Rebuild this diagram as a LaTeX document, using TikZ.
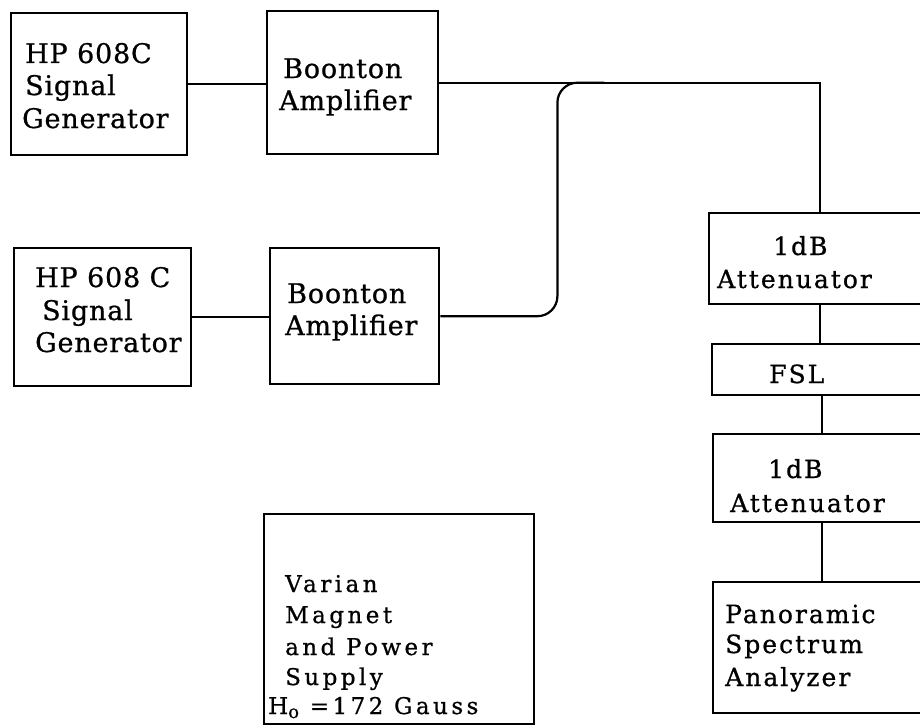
\documentclass[tikz,border=0pt]{standalone}
\usepackage{fontspec}
\usetikzlibrary{calc}
\setmainfont{DejaVu Serif}
\newfontfamily\fmain[LetterSpace=3,FakeBold=0.8]{DejaVu Serif}
\newfontfamily\fright[LetterSpace=8,FakeBold=0.8]{DejaVu Serif}
\newfontfamily\fvar[LetterSpace=15,FakeBold=0.8]{DejaVu Serif}
\begin{document}
\begin{tikzpicture}[x=1pt,y=-1pt,
  box/.style={draw, line width=2.4pt, inner sep=0pt, anchor=north west},
  wire/.style={line width=2.2pt},
  tmain/.style={anchor=base west, inner sep=0pt, font=\fmain\fontsize{27}{32}\selectfont},
  tright/.style={anchor=base west, inner sep=0pt, font=\fright\fontsize{25}{30}\selectfont},
  tvar/.style={anchor=base west, inner sep=0pt, font=\fvar\fontsize{23}{27}\selectfont}]
\useasboundingbox (0,0) rectangle (920,725);
\clip (0,0) rectangle (920,725);
% boxes
\node[box, minimum width=176pt, minimum height=142pt] (sg1) at (10,12) {};
\node[box, minimum width=171pt, minimum height=143pt] (amp1) at (266,10) {};
\node[box, minimum width=177pt, minimum height=138pt] (sg2) at (13,247) {};
\node[box, minimum width=169pt, minimum height=136pt] (amp2) at (269,247) {};
\node[box, minimum width=222pt, minimum height=91pt] (att1) at (708,212) {};
\node[box, minimum width=219pt, minimum height=51pt] (fsl) at (711,343) {};
\node[box, minimum width=218pt, minimum height=88pt] (att2) at (712,433) {};
\node[box, minimum width=218pt, minimum height=131pt] (pan) at (712,581) {};
\node[box, minimum width=270pt, minimum height=210pt] (var) at (263,513) {};
% texts
\node[tmain] (sg1a) at (25,63) {HP 608C};
\node[tmain] (sg1b) at (25,95) {Signal};
\node[tmain] (sg1c) at (22,128) {Generator};
\node[tmain] (amp1a) at (283,78) {Boonton};
\node[tmain] (amp1b) at (279,110) {Amplifier};
\node[tmain] (sg2a) at (35,287) {HP 608 C};
\node[tmain] (sg2b) at (42,320) {Signal};
\node[tmain] (sg2c) at (35,352) {Generator};
\node[tmain] (amp2a) at (287,303) {Boonton};
\node[tmain] (amp2b) at (285,335) {Amplifier};
\node[tright] (att1a) at (773,255) {1dB};
\node[tright] (att1b) at (717,288) {Attenuator};
\node[tright] (fsla) at (769,383) {FSL};
\node[tright] (att2a) at (768,478) {1dB};
\node[tright] (att2b) at (730,512) {Attenuator};
\node[tright] (pana) at (725,623) {Panoramic};
\node[tright] (panb) at (725,653) {Spectrum};
\node[tright] (panc) at (725,686) {Analyzer};
\node[tvar] (vara) at (285,592) {Varian};
\node[tvar] (varb) at (285,623) {Magnet};
\node[tvar] (varc) at (285,655) {and Power};
\node[tvar] (vard) at (285,685) {Supply};
\node[tvar] (vare) at (268,714) {H\raisebox{-4pt}{\fontsize{18}{18}\selectfont o} =172 Gauss};
% connectors
\draw[wire] (sg1.east) -- (sg1.east -| amp1.west);
\draw[wire] (sg2.east) -- (sg2.east -| amp2.west);
\draw[wire] (amp1.east) -| (att1.north);
\coordinate (jn) at ($(amp1.east)+(165,0)$);
\coordinate (bend) at ($(amp1.east)+(118,0)$);
\draw[wire, rounded corners=20pt] (amp2.east) -| (bend) -- (jn);
\draw[wire] (att1.south) -- (att1.south |- fsl.north);
\draw[wire] (fsl.south) -- (fsl.south |- att2.north);
\draw[wire] (att2.south) -- (att2.south |- pan.north);
\end{tikzpicture}
\end{document}
